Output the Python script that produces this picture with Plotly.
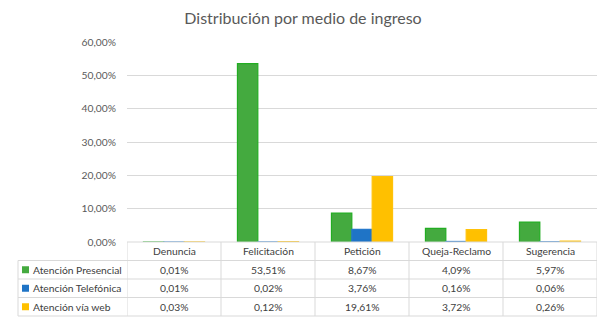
import plotly.graph_objects as go

# Chart data
categories = ["Denuncia", "Felicitación", "Petición", "Queja-Reclamo", "Sugerencia"]
series_names = ["Atención Presencial", "Atención Telefónica", "Atención vía web"]
presencial = [0.01, 53.51, 8.67, 4.09, 5.97]
telefonica = [0.01, 0.02, 3.76, 0.16, 0.06]
web = [0.03, 0.12, 19.61, 3.72, 0.26]
y_ticks = [0, 10, 20, 30, 40, 50, 60]

series_values = [presencial, telefonica, web]
fills = ["#44AA3F", "#1F74C6", "#FFC000"]
edges = ["#22AD22", "#2679CC", "#FFC20A"]

W, H = 606, 322
L, R, T, B = 127, 9, 42, 80
plot_w = W - L - R
plot_h = H - T - B

FONT = "Lato"
TXT = "#404040"
GRID = "#D9D9D9"
TSIZE = 10.3


def py(pix):
    """Pixel row -> paper y (0 at the axis line)."""
    return (H - B - pix) / plot_h


def px(pix):
    """Pixel column -> paper x."""
    return (pix - L) / plot_w


def fmt(v):
    return f"{v:.2f}".replace(".", ",") + "%"


fig = go.Figure()
for name, vals, fc, ec in zip(series_names, series_values, fills, edges):
    fig.add_trace(go.Bar(
        x=categories, y=vals, name=name,
        marker=dict(color=fc, line=dict(color=ec, width=1.2)),
        showlegend=False,
    ))

shapes = []
annotations = []

# Data table beneath the plot
axis_pix = H - B
row_edges = [axis_pix, 260.5, 279, 297.5, 316]
left_pix = 18

# horizontal rules
shapes.append(dict(type="line", xref="paper", yref="paper",
                   x0=0, x1=1, y0=py(row_edges[0]), y1=py(row_edges[0]),
                   line=dict(color=GRID, width=1)))
for e in row_edges[1:]:
    shapes.append(dict(type="line", xref="paper", yref="paper",
                       x0=px(left_pix), x1=1, y0=py(e), y1=py(e),
                       line=dict(color=GRID, width=1)))
# vertical rules
shapes.append(dict(type="line", xref="paper", yref="paper",
                   x0=px(left_pix), x1=px(left_pix),
                   y0=py(row_edges[1]), y1=py(row_edges[-1]),
                   line=dict(color=GRID, width=1)))
for k in range(len(categories) + 1):
    xb = k - 0.5
    shapes.append(dict(type="line", xref="x", yref="paper",
                       x0=xb, x1=xb, y0=py(row_edges[0]), y1=py(row_edges[-1]),
                       line=dict(color=GRID, width=1)))

# header row: category names
hc = (row_edges[0] + row_edges[1]) / 2
for i, c in enumerate(categories):
    annotations.append(dict(x=i, y=py(hc), xref="x", yref="paper", text=c,
                            showarrow=False, xanchor="center", yanchor="middle",
                            font=dict(family=FONT, size=TSIZE, color=TXT)))

# series rows: legend key, name and values
for r, (name, vals, fc) in enumerate(zip(series_names, series_values, fills)):
    rc = (row_edges[r + 1] + row_edges[r + 2]) / 2
    shapes.append(dict(type="rect", xref="paper", yref="paper",
                       x0=px(22), x1=px(29), y0=py(rc + 3.5), y1=py(rc - 3.5),
                       fillcolor=fc, line=dict(width=0)))
    annotations.append(dict(x=px(31), y=py(rc), xref="paper", yref="paper",
                            text=name, showarrow=False, xanchor="left",
                            yanchor="middle",
                            font=dict(family=FONT, size=TSIZE, color=TXT)))
    for i, v in enumerate(vals):
        annotations.append(dict(x=i, y=py(rc), xref="x", yref="paper",
                                text=fmt(v), showarrow=False,
                                xanchor="center", yanchor="middle",
                                font=dict(family=FONT, size=TSIZE, color=TXT)))

fig.update_layout(
    width=W, height=H,
    margin=dict(l=L, r=R, t=T, b=B, autoexpand=False),
    paper_bgcolor="white", plot_bgcolor="white",
    title=dict(text="Distribución por medio de ingreso", x=0.5, xanchor="center",
               xref="container", y=1 - 18 / H, yanchor="middle",
               font=dict(family=FONT, size=16, color="#595959")),
    barmode="group", bargap=0.35, bargroupgap=0,
    xaxis=dict(showticklabels=False, showgrid=False, zeroline=False,
               showline=False, ticks="", range=[-0.5, len(categories) - 0.5]),
    yaxis=dict(range=[0, 60], tickvals=y_ticks,
               ticktext=[fmt(v) for v in y_ticks],
               showgrid=True, gridcolor=GRID, gridwidth=1, zeroline=False,
               showline=False, ticks="", ticklabelstandoff=10,
               tickfont=dict(family=FONT, size=TSIZE, color="#595959")),
    shapes=shapes,
    annotations=annotations,
)

fig.write_html("out.html")
